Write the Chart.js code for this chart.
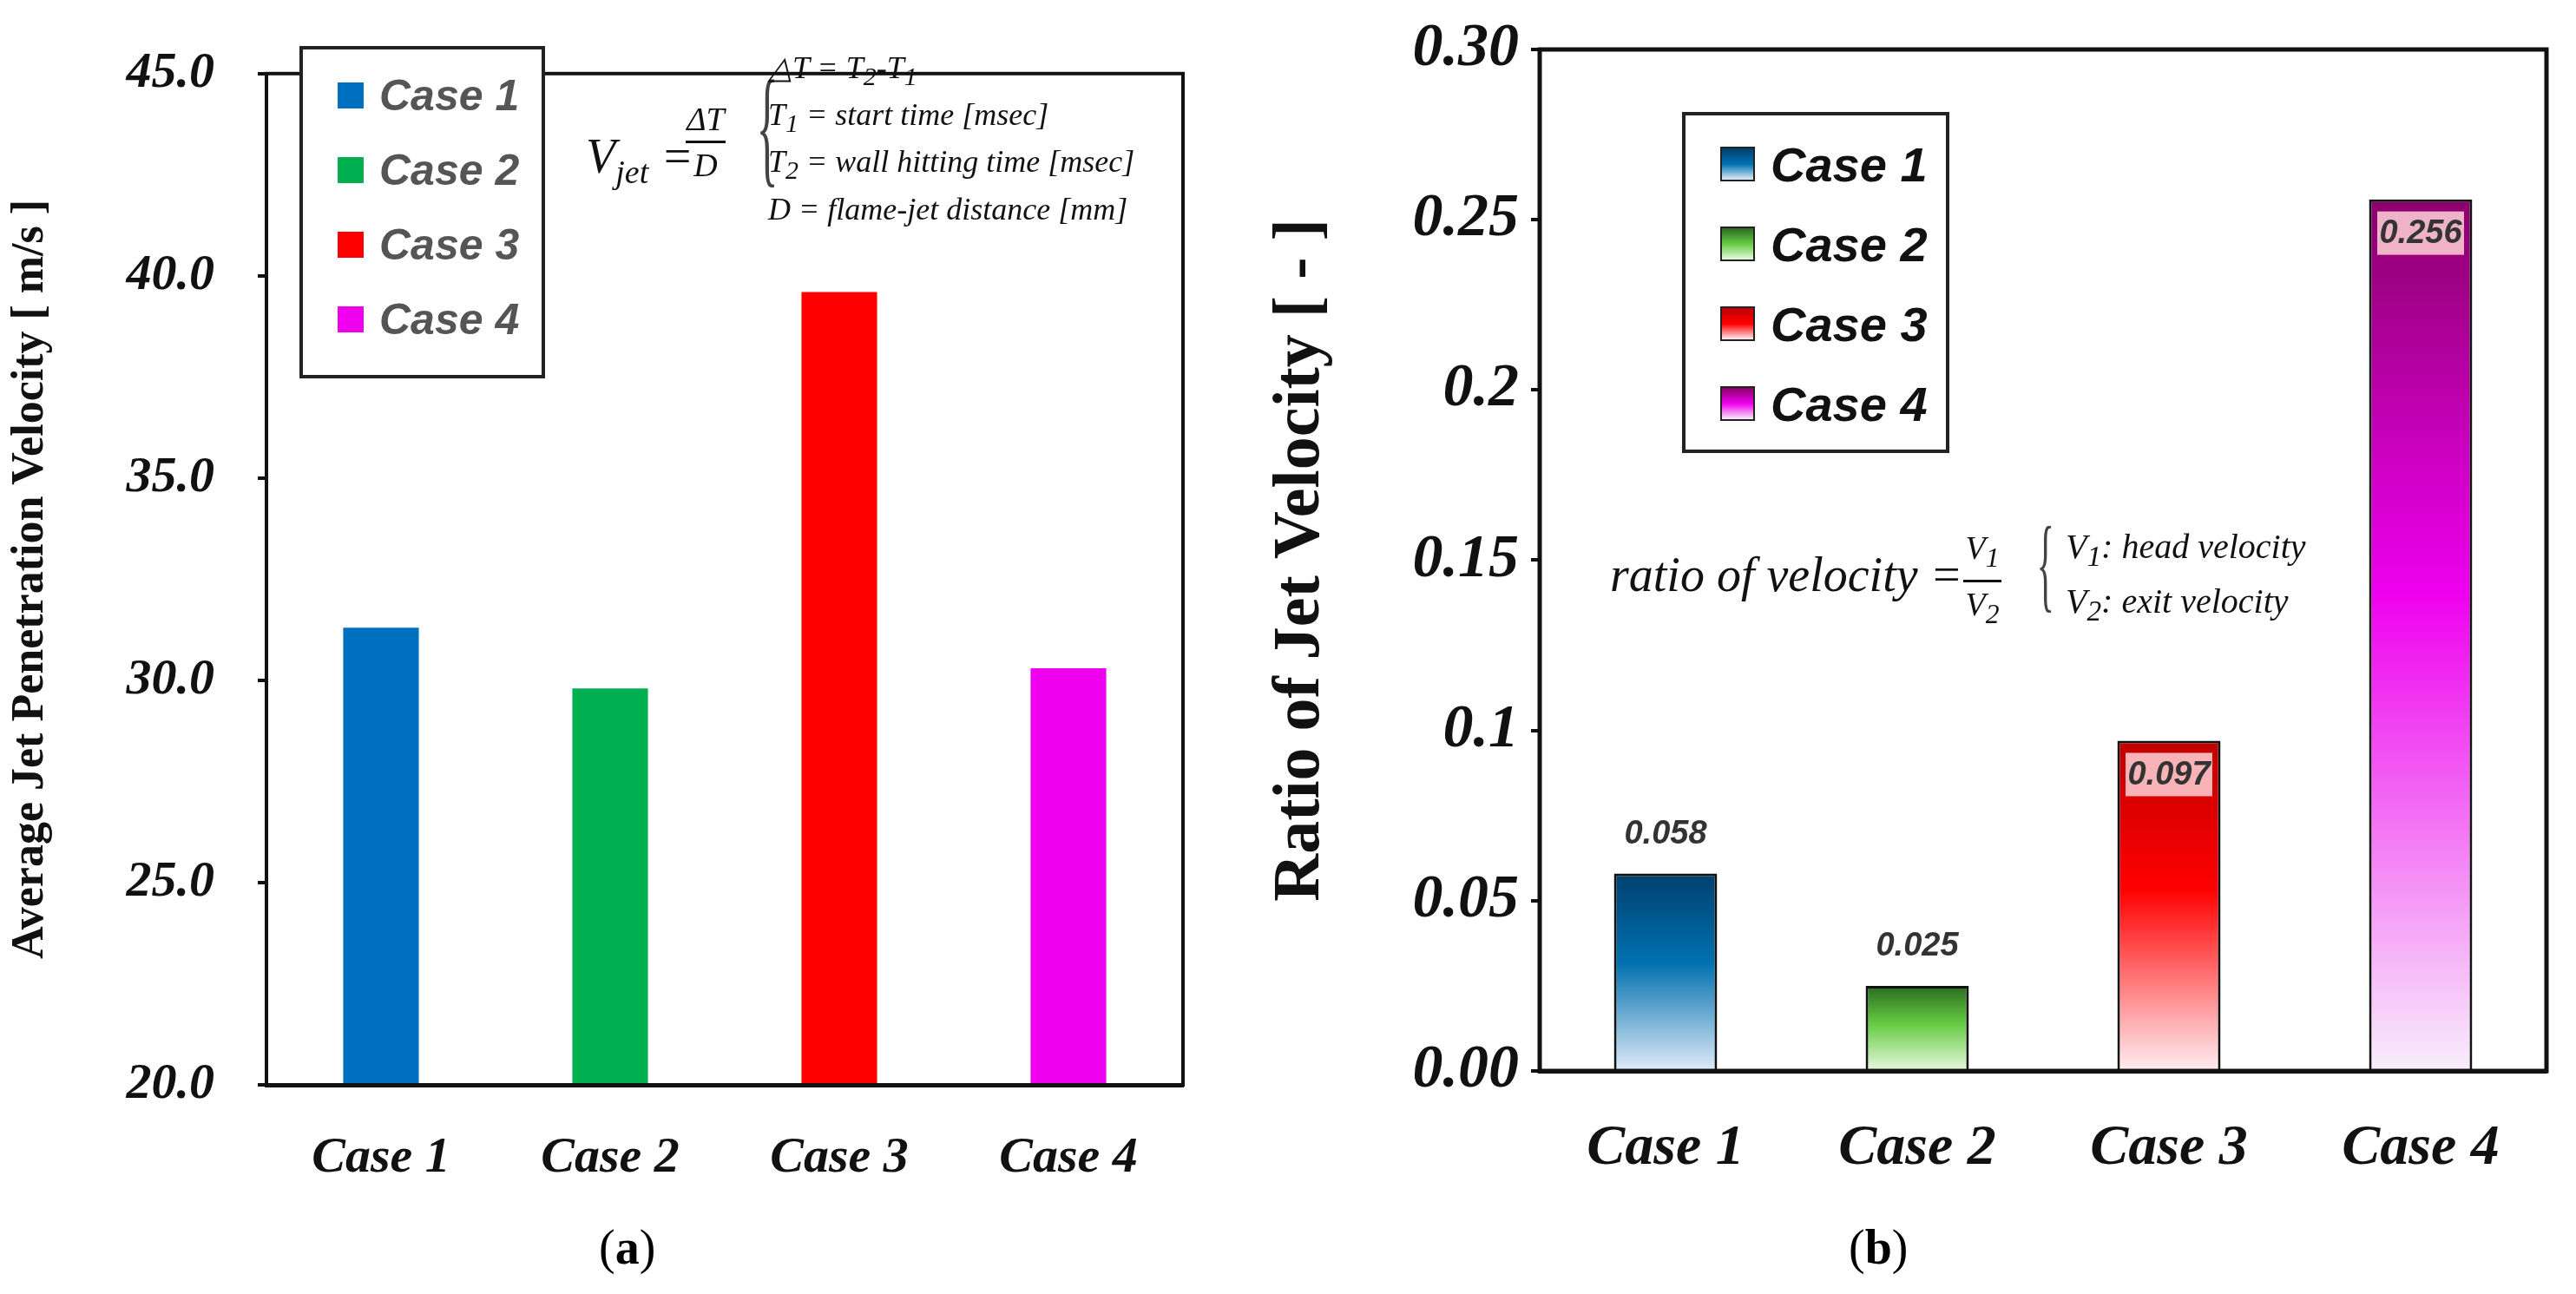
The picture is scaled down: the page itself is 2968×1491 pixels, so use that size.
<!DOCTYPE html>
<html><head><meta charset="utf-8">
<script src="https://cdn.jsdelivr.net/npm/chart.js@4"></script>
<style>
body{margin:0;background:#fff;width:2968px;height:1491px;position:relative;overflow:hidden;font-family:"Liberation Serif",serif}
canvas{position:absolute;top:0}
.ov{position:absolute;white-space:nowrap}
.leg{position:absolute;border:4px solid #222;background:#fff;font-family:"Liberation Sans",Arial;font-weight:bold;font-style:italic;color:#555}
.leg div{display:flex;align-items:center}
.sw{display:inline-block}
.f{font-family:"Liberation Serif",serif;font-style:italic;color:#111}
</style></head><body>
<div style="position:absolute;left:0;top:0;width:1420px;height:1491px"><canvas id="c1"></canvas></div>
<div style="position:absolute;left:1450px;top:0;width:1518px;height:1491px"><canvas id="c2"></canvas></div>

<div class="leg" style="left:345px;top:53px;width:275px;height:375px;font-size:50px">
 <div style="height:86px;margin-top:10px;padding-left:40px"><span class="sw" style="width:30px;height:30px;background:#0070c0;margin-right:18px"></span>Case 1</div>
 <div style="height:86px;padding-left:40px"><span class="sw" style="width:30px;height:30px;background:#00b050;margin-right:18px"></span>Case 2</div>
 <div style="height:86px;padding-left:40px"><span class="sw" style="width:30px;height:30px;background:#ff0000;margin-right:18px"></span>Case 3</div>
 <div style="height:86px;padding-left:40px"><span class="sw" style="width:30px;height:30px;background:#ee00ee;margin-right:18px"></span>Case 4</div>
</div>
<div class="leg" style="left:1938px;top:129px;width:300px;height:385px;font-size:56px;color:#111">
 <div style="height:92px;margin-top:10px;padding-left:40px"><span class="sw" style="width:36px;height:36px;background:linear-gradient(#00406e,#0070b0,#e0ecf8);border:2px solid #222;margin-right:18px"></span>Case 1</div>
 <div style="height:92px;padding-left:40px"><span class="sw" style="width:36px;height:36px;background:linear-gradient(#2a6a20,#66cc44,#e8f8e0);border:2px solid #222;margin-right:18px"></span>Case 2</div>
 <div style="height:92px;padding-left:40px"><span class="sw" style="width:36px;height:36px;background:linear-gradient(#c00000,#ff0000,#ffeef2);border:2px solid #222;margin-right:18px"></span>Case 3</div>
 <div style="height:92px;padding-left:40px"><span class="sw" style="width:36px;height:36px;background:linear-gradient(#8b006b,#ee00ee,#f8eefb);border:2px solid #222;margin-right:18px"></span>Case 4</div>
</div>

<div class="ov f" style="left:675px;top:148px;font-size:56px">V<sub style="font-size:38px">jet</sub> =</div>
<div class="ov f" style="left:790px;top:112px;font-size:38px;text-align:center;line-height:50px">ΔT<br><span style="display:block;border-top:3px solid #111;width:46px"></span>D</div>
<div class="ov f" style="left:848px;top:70px;font-size:150px;font-style:normal;font-weight:100;line-height:150px;transform:scaleX(0.35);color:#444">{</div>
<div class="ov f" style="left:885px;top:56px;font-size:36px;line-height:45px">△T = T<sub>2</sub>-T<sub>1</sub><br>T<sub>1</sub> = start time [msec]<br>T<sub>2</sub> = wall hitting time [msec]<br>D = flame-jet distance [mm]</div>

<div class="ov f" style="left:1855px;top:630px;font-size:56px">ratio of velocity =</div>
<div class="ov f" style="left:2262px;top:606px;font-size:38px;text-align:center;line-height:50px">V<sub>1</sub><br><span style="display:block;border-top:3px solid #111;width:44px"></span>V<sub>2</sub></div>
<div class="ov f" style="left:2328px;top:590px;font-size:120px;font-style:normal;font-weight:100;line-height:120px;transform:scaleX(0.35);color:#444">{</div>
<div class="ov f" style="left:2380px;top:604px;font-size:40px;line-height:52px">V<sub>1</sub>: head velocity<br>V<sub>2</sub>: exit velocity</div>

<div class="ov" style="left:690px;top:1405px;font-size:56px;font-family:'Liberation Serif'">(<b>a</b>)</div>
<div class="ov" style="left:2130px;top:1405px;font-size:56px;font-family:'Liberation Serif'">(<b>b</b>)</div>

<script>
const categories=["Case 1","Case 2","Case 3","Case 4"];
const velocity=[31.3,29.8,39.6,30.3];
const ratio=[0.058,0.025,0.097,0.256];
const leftTicks=["20.0","25.0","30.0","35.0","40.0","45.0"];
const rightTicks=["0.00","0.05","0.1","0.15","0.2","0.25","0.30"];
const flat=["#0070c0","#00b050","#ff0000","#ee00ee"];
const grads=[["#00406e","#0070b0","#e0ecf8"],["#2a6a20","#66cc44","#e8f8e0"],["#c00000","#ff0000","#ffeef2"],["#8b006b","#ee00ee","#f8eefb"]];
Chart.defaults.devicePixelRatio=1;
const boxPlug={id:'box',afterDraw(c,a,o){const {ctx,chartArea:ca}=c;ctx.save();ctx.strokeStyle='#111';ctx.lineWidth=o.w;ctx.strokeRect(ca.left,ca.top,ca.right-ca.left,ca.bottom-ca.top);ctx.restore();}};
function mk(id,data,ticks,min,max,step,yw,xh,pad,bp,yTitle,yFont,tFont,tPad,cFont,bg,border){
 return new Chart(document.getElementById(id),{type:'bar',
  data:{labels:categories,datasets:[{data,backgroundColor:bg,borderColor:border,borderWidth:border?3:0,barPercentage:bp,categoryPercentage:1}]},
  options:{responsive:false,animation:false,layout:{padding:pad},plugins:{legend:{display:false},tooltip:{enabled:false},box:{w:border?5:4}},
   scales:{
    x:{grid:{display:false,drawTicks:false},border:{color:'#111',width:5},afterFit(s){s.height=xh},
       ticks:{padding:50,color:'#111',font:{family:'Liberation Serif',style:'italic',weight:'bold',size:cFont}}},
    y:{min,max,afterFit(s){s.width=yw},grid:{display:true,drawOnChartArea:false,tickLength:10,color:'#111',lineWidth:4},border:{color:'#111',width:4},
       afterBuildTicks(s){s.ticks=ticks.map((t,i)=>({value:min+i*step}))},
       ticks:{color:'#111',padding:tPad,callback:(v,i)=>ticks[i],font:{family:'Liberation Serif',style:'italic',weight:'bold',size:tFont}},
       title:{display:true,text:yTitle,color:'#111',padding:{bottom:20},font:{family:'Liberation Serif',weight:'bold',size:yFont}}}}},
  plugins:[boxPlug]});
}
const c1=document.getElementById('c1');c1.width=1420;c1.height=1491;
const c2=document.getElementById('c2');c2.width=1518;c2.height=1491;
Chart.register({id:'vals',afterDatasetsDraw(c){if(c.canvas.id!=='c2')return;const ctx=c.ctx;const m=c.getDatasetMeta(0);
 ctx.save();ctx.font='italic bold 38px "Liberation Sans"';ctx.textAlign='center';ctx.textBaseline='middle';
 m.data.forEach((b,i)=>{const t=ratio[i].toFixed(3);
  if(i>=2){ctx.fillStyle='rgba(255,210,215,0.85)';ctx.fillRect(b.x-50,b.y+14,100,50);ctx.fillStyle='#333';ctx.fillText(t,b.x,b.y+40);}
  else{ctx.fillStyle='#333';ctx.fillText(t,b.x,b.y-45);}
 });ctx.restore();}});
mk('c1',velocity,leftTicks,20,45,5,307,241,{top:57,right:57,bottom:0},0.33,'Average Jet Penetration Velocity [ m/s ]',52,58,50,58,flat,null);
const gradBg=(ctx)=>{const ch=ctx.chart;if(!ch.chartArea)return '#fff';const i=ctx.dataIndex;const y=ch.scales.y;
 const top=y.getPixelForValue(ratio[i]),bot=y.getPixelForValue(0);const g=ch.ctx.createLinearGradient(0,top,0,bot);
 g.addColorStop(0,grads[i][0]);g.addColorStop(0.45,grads[i][1]);g.addColorStop(1,grads[i][2]);return g;};
mk('c2',ratio,rightTicks,0,0.30,0.05,324,257,{top:57,right:34,bottom:0},0.41,'Ratio of Jet Velocity [ - ]',76,70,14,66,gradBg,'#111');
</script></body></html>
